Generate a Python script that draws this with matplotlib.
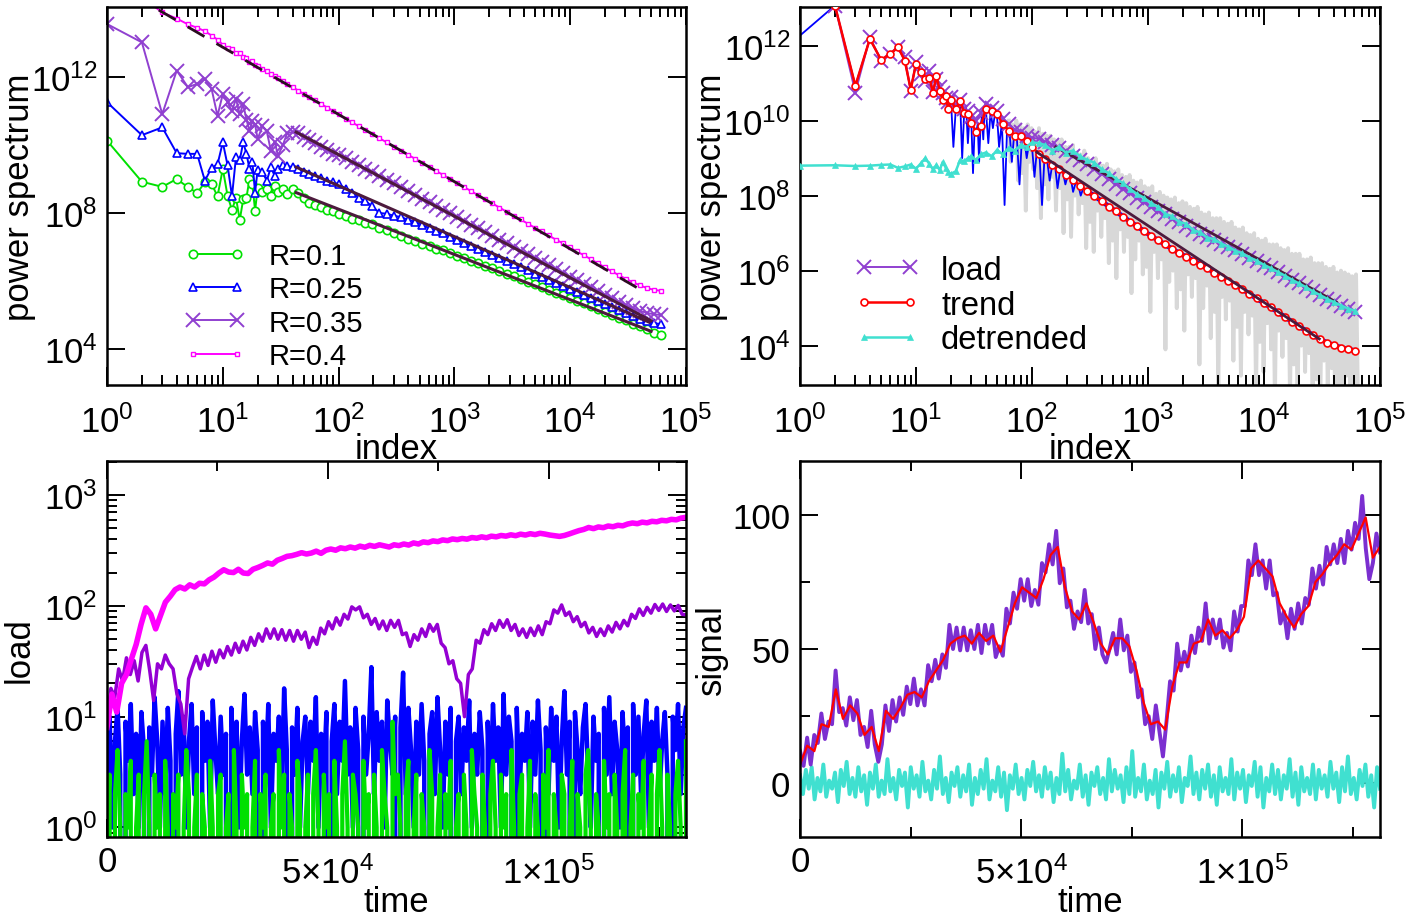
import numpy as np
import matplotlib
matplotlib.use("Agg")
import matplotlib.pyplot as plt
from matplotlib.ticker import LogLocator, NullFormatter, NullLocator

plt.rcParams['font.family'] = ['Liberation Sans', 'DejaVu Sans']
plt.rcParams['mathtext.fontset'] = 'custom'
plt.rcParams['mathtext.rm'] = 'Liberation Sans'
plt.rcParams['mathtext.it'] = 'Liberation Sans:italic'
plt.rcParams['mathtext.bf'] = 'Liberation Sans:bold'

# ---------------- spectra (top row), values are log10 of power ----------------
idx = [1, 2, 3, 4, 5, 6, 7, 8, 9, 10, 11, 12, 13, 14, 15, 16, 17, 18, 19, 20,
       22, 24, 26, 28, 30, 33, 36, 40,
       45, 50, 56, 63, 71, 80, 90, 100,
       115, 130, 150, 170, 195, 225, 260, 300, 345, 400, 460, 530, 610, 700, 800, 920,
       1060, 1220, 1400, 1610, 1850, 2130, 2450, 2820, 3240, 3730, 4290, 4930, 5670, 6520, 7500, 8630, 9920,
       11400, 13100, 15100, 17400, 20000, 23000, 26400, 30400, 35000, 40200, 46200, 53100, 61000]

r01 = [10.13, 8.92, 8.77, 9.0, 8.76, 8.59, 8.9, 8.86, 8.49, 9.3, 8.5, 8.09, 8.45, 7.79, 8.4, 8.45, 9.0, 8.86, 8.07, 8.73,
       8.61, 8.72, 8.5, 8.78, 8.62, 8.7, 8.55, 8.72,
       8.58, 8.45, 8.3, 8.25, 8.18, 8.08, 8.05, 7.98,
       7.9, 7.82, 7.8, 7.7, 7.68, 7.55, 7.5, 7.42, 7.33, 7.25, 7.17, 7.1, 7.03, 6.95, 6.9, 6.82,
       6.75, 6.67, 6.6, 6.53, 6.45, 6.38, 6.3, 6.22, 6.14, 6.06, 5.98, 5.9, 5.82, 5.74, 5.66, 5.58, 5.5,
       5.42, 5.34, 5.26, 5.17, 5.09, 5.0, 4.92, 4.84, 4.75, 4.67, 4.58, 4.48, 4.4]
r025 = [11.26, 10.29, 10.52, 9.76, 9.74, 9.74, 8.95, 9.33, 9.43, 10.08, 9.4, 8.49, 9.65, 9.55, 10.08, 9.75, 9.3, 9.5, 8.6, 9.28,
        9.2, 8.95, 9.35, 9.1, 9.3, 9.42, 9.38, 9.35,
        9.3, 9.22, 9.15, 9.1, 9.02, 8.95, 8.9, 8.85,
        8.72, 8.6, 8.45, 8.35, 8.2, 8.0, 7.98, 7.92, 7.88, 7.8, 7.74, 7.65, 7.55, 7.48, 7.4, 7.3,
        7.22, 7.13, 7.04, 6.95, 6.86, 6.77, 6.68, 6.58, 6.49, 6.4, 6.31, 6.22, 6.13, 6.04, 5.95, 5.86, 5.77,
        5.68, 5.6, 5.51, 5.42, 5.33, 5.24, 5.15, 5.06, 4.97, 4.89, 4.81, 4.76, 4.73]
r035 = [13.56, 13.02, 10.91, 12.19, 11.7, 11.8, 11.94, 11.65, 10.86, 11.5, 11.26, 11.0, 11.36, 10.9, 11.2, 10.75, 10.42, 10.7, 10.6, 10.18,
        10.55, 10.4, 9.83, 10.1, 9.69, 10.0, 10.35, 10.38,
        10.35, 10.25, 10.15, 10.05, 9.95, 9.85, 9.75, 9.7,
        9.62, 9.5, 9.4, 9.3, 9.2, 9.08, 8.98, 8.87, 8.76, 8.64, 8.53, 8.42, 8.31, 8.2, 8.1, 7.99,
        7.88, 7.77, 7.66, 7.55, 7.44, 7.33, 7.22, 7.11, 7.0, 6.89, 6.78, 6.68, 6.57, 6.46, 6.35, 6.24, 6.13,
        6.02, 5.92, 5.81, 5.7, 5.6, 5.49, 5.39, 5.29, 5.2, 5.12, 5.06, 5.02, 5.0]
r04 = [15.0, 14.35, 13.9, 13.72, 13.55, 13.45, 13.35, 13.22, 13.1, 12.95, 12.85, 12.83, 12.7, 12.72, 12.6, 12.55, 12.45, 12.48, 12.35, 12.33,
       12.25, 12.17, 12.1, 12.03, 11.98, 11.88, 11.8, 11.7,
       11.6, 11.5, 11.42, 11.32, 11.2, 11.1, 11.0, 10.9,
       10.77, 10.67, 10.55, 10.44, 10.32, 10.2, 10.08, 9.95, 9.83, 9.71, 9.59, 9.47, 9.35, 9.23, 9.12, 9.0,
       8.88, 8.76, 8.64, 8.52, 8.4, 8.28, 8.16, 8.04, 7.92, 7.81, 7.69, 7.57, 7.46, 7.34, 7.22, 7.11, 6.99,
       6.87, 6.76, 6.64, 6.52, 6.4, 6.28, 6.17, 6.06, 5.96, 5.87, 5.79, 5.74, 5.71]

# straight-line fits (index, log10 power) at both ends
fit01 = ([43, 50000], [8.6, 4.52])
fit025 = ([43, 48000], [9.35, 4.79])
fit035 = ([43, 50000], [10.38, 4.83])
fit04 = ([2.8, 37500], [13.97, 5.81])

# load and trend spectra start at index 2, detrended at index 1
load_spec = [13.07, 10.75, 12.22, 11.6, 11.78, 11.96, 11.7, 10.8, 11.56, 11.25, 11.07, 11.33, 10.76, 11.1, 10.9, 10.75, 10.6, 10.5, 10.62,
             10.4, 10.55, 10.3, 10.25, 10.1, 10.0, 10.2, 10.45,
             10.35, 10.25, 10.05, 9.9, 9.75, 9.7, 9.6, 9.55,
             9.51, 9.44, 9.36, 9.28, 9.18, 9.07, 8.95, 8.84, 8.72, 8.58, 8.45, 8.31, 8.18, 8.06, 7.94, 7.82,
             7.71, 7.6, 7.5, 7.39, 7.29, 7.18, 7.08, 6.98, 6.91, 6.82, 6.72, 6.63, 6.54, 6.45, 6.35, 6.26, 6.16,
             6.07, 5.97, 5.87, 5.76, 5.66, 5.56, 5.45, 5.35, 5.25, 5.16, 5.07, 4.98, 4.91]
trend_spec = [13.07, 10.93, 12.18, 11.62, 11.78, 11.96, 11.6, 10.83, 11.52, 11.3, 11.1, 11.15, 10.75, 11.2, 10.8, 10.55, 10.65, 10.3, 10.55,
              10.3, 10.53, 10.2, 10.18, 9.95, 9.69, 9.85, 10.31,
              10.25, 10.18, 9.9, 9.73, 9.6, 9.58, 9.45, 9.3,
              9.11, 8.98, 8.83, 8.7, 8.56, 8.41, 8.27, 8.12, 7.99, 7.85, 7.71, 7.58, 7.44, 7.31, 7.19, 7.06,
              6.93, 6.81, 6.7, 6.58, 6.47, 6.37, 6.27, 6.16, 6.06, 5.95, 5.84, 5.73, 5.62, 5.5, 5.38, 5.26, 5.14,
              5.02, 4.9, 4.77, 4.64, 4.52, 4.4, 4.28, 4.17, 4.08, 4.01, 3.95, 3.9, 3.87]
detr_spec = [8.8, 8.81, 8.79, 8.8, 8.82, 8.83, 8.74, 8.78, 8.83, 8.72, 8.86, 9.0, 8.85, 8.7, 8.82, 8.68, 8.9, 8.75, 8.62, 8.58,
             8.65, 8.95, 8.92, 9.0, 9.05, 8.95, 9.1, 9.15,
             9.05, 9.22, 9.1, 9.28, 9.2, 9.35, 9.3, 9.42,
             9.4, 9.35, 9.2, 9.3, 9.15, 9.2, 9.05, 8.95, 8.88, 8.7, 8.6, 8.45, 8.33, 8.18, 8.05, 7.95,
             7.8, 7.7, 7.52, 7.45, 7.3, 7.25, 7.08, 7.02, 6.88, 6.84, 6.72, 6.64, 6.53, 6.46, 6.35, 6.27, 6.16,
             6.07, 5.97, 5.87, 5.76, 5.66, 5.56, 5.45, 5.35, 5.25, 5.16, 5.07, 4.99, 4.93]

# raw periodogram of the trend (thin blue) at low index
raw_trend_n = [1, 2, 3, 4, 5, 6, 7, 8, 9, 10, 11, 12, 13, 14, 15, 16, 17, 18, 19, 20,
               21, 22, 23, 24, 25, 26, 27, 28, 29, 30, 31, 32, 33, 34, 35, 36, 37, 38, 39, 40,
               42, 44, 46, 48, 50, 52, 55, 58, 61, 64, 67, 70, 74, 78, 82, 86, 90, 95, 100, 105,
               110, 116, 122, 128, 135, 142, 150, 158, 166, 175, 184, 194, 204, 215, 226, 238, 250, 263, 277, 291, 306]
raw_trend = [12.27, 13.07, 10.93, 12.18, 11.62, 11.78, 11.96, 11.6, 10.83, 11.52, 11.3, 11.1, 11.15, 10.75, 11.2, 10.8, 10.55, 10.65, 10.3, 10.55,
             9.3, 10.3, 10.6, 10.53, 9.0, 10.2, 10.4, 9.4, 10.18, 9.95, 8.6, 9.8, 9.69, 9.9, 8.9, 9.85, 10.1, 9.5, 10.31, 10.3,
             9.4, 10.25, 9.8, 10.2, 10.1, 9.3, 9.95, 7.75, 9.8, 9.7, 8.9, 9.6, 9.55, 8.3, 9.6, 9.5, 9.0, 9.45, 9.3, 8.5,
             9.2, 9.1, 7.75, 9.0, 8.95, 8.4, 8.85, 8.8, 8.2, 8.7, 8.65, 8.3, 8.55, 8.5, 8.1, 8.35, 8.3, 8.0, 8.2, 8.15, 8.05]

# raw periodogram of the load (light grey band), log-spaced index 10^1.8 .. 10^4.81
raw_load = [10.0, 8.9, 9.9, 9.3, 10.0, 8.4,
            9.9, 8.6, 9.8, 7.6, 9.9, 8.9,
            9.8, 8.7, 9.7, 8.2, 9.8, 7.4,
            9.65, 8.3, 9.6, 7.9, 9.6, 8.5,
            9.5, 7.6, 9.45, 8.2, 9.5, 7.0,
            9.3, 7.9, 9.3, 6.9, 9.35, 8.0,
            9.15, 7.5, 9.1, 7.8, 9.2, 6.6,
            9.0, 7.3, 8.95, 6.5, 9.0, 7.6,
            8.85, 6.9, 8.8, 7.4, 8.85, 6.2,
            8.7, 6.8, 8.65, 5.8, 8.7, 7.1,
            8.55, 6.5, 8.5, 6.9, 8.55, 5.4,
            8.4, 6.3, 8.35, 6.8, 8.4, 5.9,
            8.25, 6.1, 8.2, 4.9, 8.25, 6.5,
            8.05, 5.8, 8.1, 6.3, 8.0, 3.9,
            7.95, 5.7, 7.9, 6.0, 7.95, 5.0,
            7.8, 5.5, 7.85, 4.4, 7.8, 5.9,
            7.7, 5.3, 7.65, 5.8, 7.7, 3.5,
            7.55, 5.0, 7.5, 5.6, 7.55, 4.2,
            7.4, 4.9, 7.4, 2.8, 7.4, 5.3,
            7.3, 4.7, 7.25, 5.2, 7.3, 3.6,
            7.15, 4.5, 7.1, 3.2, 7.15, 4.9,
            7.0, 4.3, 6.95, 4.8, 7.0, 2.7,
            6.85, 4.1, 6.8, 3.3, 6.85, 4.6,
            6.7, 3.9, 6.7, 2.5, 6.7, 4.4,
            6.6, 3.7, 6.55, 4.2, 6.6, 2.6,
            6.45, 3.5, 6.45, 2.4, 6.45, 4.0,
            6.3, 3.3, 6.3, 3.8, 6.35, 2.2,
            6.2, 3.1, 6.2, 2.3, 6.2, 3.6,
            6.1, 2.9, 6.05, 3.4, 6.1, 2.1,
            5.95, 2.7, 6.0, 2.2, 5.95, 3.2,
            5.9, 2.5, 5.85, 2.0, 5.9, 2.6]

fit_trend = ([110, 30000], [9.16, 4.18])
fit_load = ([160, 42000], [9.3, 5.16])

# ---------------- time series (bottom row), time 0 .. 131072 ----------------
T_END = 131072
load_r04 = [8, 16, 11, 20, 24, 33, 45, 68, 96, 84, 62, 82, 108, 122, 140, 148, 142, 155, 148, 160,
            158, 172, 182, 198, 212, 202, 200, 214, 198, 196, 214, 222, 232, 244, 238, 258, 268, 280, 284, 292,
            302, 294, 300, 312, 298, 318, 326, 318, 334, 328, 340, 332, 346, 338, 352, 344, 356, 348, 340, 356,
            350, 362, 354, 370, 362, 378, 372, 386, 380, 394, 388, 402, 396, 406, 400, 414, 408, 420, 412, 426,
            420, 432, 426, 438, 430, 444, 436, 448, 440, 452, 445, 436, 430, 424, 432, 446, 462, 478, 490, 510,
            498, 516, 508, 526, 518, 534, 528, 548, 560, 552, 570, 562, 580, 574, 592, 586, 604, 598, 620, 630]
load_r035 = [9, 18, 15, 27, 21, 34, 24, 32, 21, 38, 44, 26, 14, 30, 27, 36, 30, 27, 16, 13,
             7, 22, 28, 35, 27, 36, 29, 39, 31, 40, 34, 43, 36, 46, 38, 48, 40, 52, 44, 56,
             48, 62, 51, 62, 50, 61, 49, 60, 48, 60, 50, 58, 42, 52, 45, 63, 56, 72, 62, 78,
             67, 84, 76, 98, 92, 98, 78, 84, 68, 77, 62, 73, 60, 74, 64, 74, 55, 57, 43, 55,
             49, 62, 53, 68, 59, 68, 46, 42, 30, 32, 22, 20, 10, 24, 27, 49, 46, 61, 55, 69,
             60, 74, 64, 75, 60, 68, 54, 62, 52, 63, 54, 66, 55, 72, 69, 92, 86, 102, 82, 88,
             72, 80, 65, 71, 57, 64, 53, 62, 54, 66, 58, 71, 62, 74, 66, 84, 77, 94, 82, 97,
             86, 103, 91, 104, 89, 102, 90, 101, 84, 83]
load_r025 = [2, 10, 1, 6, 12, 3, 0, 9, 4, 13, 2, 7, 1, 11, 5, 0, 8, 3, 15, 6, 1, 9, 2, 12, 4, 0, 7, 17, 3, 10, 1, 6, 13, 2, 8, 0, 11, 4, 9, 1,
             14, 5, 2, 10, 3, 7, 0, 12, 4, 9, 1, 6, 16, 3, 8, 2, 11, 5, 0, 9, 3, 13, 1, 7, 4, 10, 2, 18, 5, 0, 8, 3, 12, 1, 6, 10, 2, 9, 4, 15,
             1, 7, 3, 11, 0, 6, 13, 2, 9, 4, 21, 3, 8, 1, 12, 5, 0, 10, 3, 7, 28, 2, 11, 4, 9, 1, 14, 6, 3, 10, 0, 8, 25, 2, 12, 5, 1, 9, 3, 13,
             4, 0, 7, 11, 2, 15, 5, 1, 9, 3, 12, 0, 6, 10, 2, 8, 4, 14, 1, 7, 3, 11, 5, 0, 9, 2, 13, 4, 8, 1, 16, 3, 10, 6, 0, 12, 2, 7, 4, 11,
             1, 9, 3, 14, 5, 0, 8, 2, 12, 4, 10, 1, 6, 17, 3, 9, 0, 11, 5, 2, 8, 13, 3, 1, 10, 4, 7, 0, 12, 3, 15, 2, 9, 5, 1, 11, 4, 8, 0, 13,
             3, 10, 2, 7, 14, 1, 9, 4, 12, 2, 6, 11, 3, 0, 10, 5, 13, 2, 8, 12]
load_r01 = [1, 3, 0, 2, 5, 1, 0, 2, 1, 4, 0, 1, 3, 0, 2, 6, 1, 0, 3, 1, 2, 0, 4, 1, 0, 2, 1, 3, 0, 1, 5, 2, 0, 1, 3, 0, 2, 1, 0, 4,
            1, 0, 2, 3, 0, 1, 2, 0, 5, 1, 0, 3, 1, 2, 0, 1, 4, 0, 2, 1, 3, 0, 1, 2, 0, 5, 1, 3, 0, 2, 1, 0, 4, 2, 0, 1, 3, 0, 2, 5,
            1, 0, 3, 1, 2, 0, 4, 1, 0, 2, 6, 1, 0, 3, 2, 1, 0, 4, 1, 2, 0, 3, 1, 0, 5, 2, 1, 0, 9, 2, 3, 1, 0, 2, 4, 0, 1, 3, 0, 2,
            1, 0, 5, 2, 0, 1, 3, 0, 2, 1, 4, 0, 1, 2, 0, 3, 1, 0, 5, 2, 1, 0, 3, 1, 0, 2, 4, 1, 0, 3, 1, 2, 0, 5, 1, 0, 2, 3, 0, 1,
            4, 0, 2, 1, 0, 3, 1, 5, 0, 2, 1, 0, 3, 2, 0, 1, 4, 0, 2, 1, 0, 3, 5, 1, 0, 2, 1, 0, 4, 1, 2, 0, 3, 1, 0, 2, 5, 0, 1, 3,
            0, 2, 1, 4, 0, 1, 3, 0, 2, 5, 1, 0, 3, 1, 0, 2, 4, 1, 0, 6]

trend = [7, 14, 12, 22, 21, 35, 24, 29, 26, 18, 21, 12, 27, 24, 28, 33, 34, 32, 38, 42,
         46, 52, 54, 55, 52, 56, 53, 55, 49, 58, 67, 73, 71, 69, 76, 85, 88, 73, 64, 61,
         67, 60, 52, 48, 54, 54, 51, 42, 30, 22, 23, 20, 36, 45, 45, 52, 53, 61, 55, 57,
         54, 57, 62, 80, 83, 80, 77, 67, 62, 58, 63, 66, 75, 78, 82, 85, 89, 87, 93, 99, 84, 88]
signal = [12, 6.5, 17, 7, 18, 15, 26, 16.5, 23, 22, 42, 26.5, 28, 21.5, 32, 23.5, 31, 18, 21, 13.5,
          27, 14.5, 8, 14.5, 29, 19.5, 31, 23, 32, 25.5, 36, 29.5, 39, 29, 35, 29, 44, 38, 46, 39,
          48, 43, 59, 50, 58, 49.5, 58, 49.5, 57, 50, 59, 48.5, 59, 52, 59, 47, 51, 47.5, 65, 59.5,
          71, 65, 76, 68, 76, 66, 72, 66.5, 82, 78.5, 89, 81.5, 94, 74.5, 80, 65.5, 68, 57.5, 64, 60,
          72, 59.5, 63, 50, 58, 48, 45, 50, 56, 48, 61, 49.5, 55, 41.5, 45, 32, 35, 22, 25, 16.5,
          29, 19.5, 10, 23, 38, 34.5, 52, 42, 49, 43.5, 55, 48.5, 58, 53, 67, 52, 61, 54, 61, 50.5,
          56, 49.5, 64, 56.5, 66, 66, 83, 77.5, 89, 77.5, 83, 72.5, 83, 70, 71, 59.5, 64, 54, 65, 57.5,
          67, 59.5, 69, 66.5, 80, 72.5, 81, 74, 88, 81.5, 89, 82, 91, 82, 94, 87, 97, 91, 107, 87.5,
          76, 82, 93, 86]
detrended = [3, -4, 5, -2, 6, -6, 2, -3, 7, -5, 1, -2, 4, -7, 5, -1, 8, -4, 2, -5,
             6, -3, 3, -8, 4, -2, 7, -5, 1, -4, 9, -3, 2, -6, 5, -1, 4, -9, 6, -2,
             3, -5, 8, -3, 1, -6, 5, -2, 10, -4, 2, -7, 4, -1, 6, -5, 3, -3, 7, -8,
             2, -4, 5, -2, 9, -6, 1, -3, 6, -5, 4, -10, 3, -2, 7, -4, 2, -6, 5, -1,
             8, -3, 3, -5, 6, -2, 4, -7, 2, -4, 11, -3, 5, -6, 1, -2, 7, -5, 3, -8,
             4, -1, 6, -4, 2, -6, 9, -3, 5, -2, 3, -7, 6, -4, 12, -5, 2, -3, 7, -6,
             1, -4, 5, -9, 4, -2, 8, -5, 3, -3, 6, -7, 2, -1, 10, -4, 4, -6, 5, -2,
             7, -5, 3, -8, 6, -3, 2, -4, 9, -6, 4, -2, 5, -7, 3, -1, 8, -5, 6, -9,
             2, -3, 7, -4, 5, -6, 3, -2, 9, -5, 4, -8, 6, -3, 2, -4, 7, -6, 5, -2,
             3, -5, 8, -2, 4, -7, 6, -3, 10, -4, 2, -6, 5, -1, 7, -5, 3, -9, 6, -2]

GREEN = '#00e000'
BLUE = '#0000ff'
VIOLET = '#9040d0'
MAGENTA = '#ff00ff'
FITC = '#4d1a3d'
RED = '#ff0000'
CYAN = '#40e0d0'
GREY = '#d8d8d8'
TICK_FS = 25
LABEL_FS = 25


def pw(v):
    return 10.0 ** np.array(v, dtype=float)


def style(ax, xpad):
    for s in ax.spines.values():
        s.set_linewidth(1.8)
    ax.tick_params(which='both', direction='in', top=True, right=True,
                   labelsize=TICK_FS, width=1.4)
    ax.tick_params(axis='x', which='both', pad=xpad)
    ax.tick_params(axis='y', which='both', pad=7)
    ax.tick_params(which='major', length=13)
    ax.tick_params(which='minor', length=7)


def log_x(ax):
    ax.set_xscale('log')
    ax.set_xlim(1, 1e5)
    ax.xaxis.set_major_locator(LogLocator(base=10, numticks=10))
    ax.xaxis.set_minor_locator(LogLocator(base=10, subs=np.arange(2, 10), numticks=20))
    ax.xaxis.set_minor_formatter(NullFormatter())


def time_x(ax):
    ax.set_xlim(0, T_END)
    ax.set_xticks([0, 5e4, 1e5])
    ax.set_xticklabels(['', r'$5{\times}10^{4}$', r'$1{\times}10^{5}$'])
    ax.set_xticks([2.5e4, 7.5e4, 1.25e5], minor=True)
    # the "0" label sits higher than the labels carrying an exponent
    ax.text(0, -0.064, '0', transform=ax.get_xaxis_transform(), ha='center', va='center',
            fontsize=TICK_FS)


fig = plt.figure(figsize=(14.08, 9.2), dpi=100)
ax1 = fig.add_axes([0.0760, 0.5804, 0.4112, 0.4109])
ax2 = fig.add_axes([0.5682, 0.5804, 0.4119, 0.4109])
ax3 = fig.add_axes([0.0760, 0.0891, 0.4112, 0.4087])
ax4 = fig.add_axes([0.5682, 0.0891, 0.4119, 0.4087])

# ---- top left: spectra for several R ----
ax1.plot(idx, pw(r01), color=GREEN, lw=1.4, marker='o', ms=6, mfc='white', mew=1.2, label='R=0.1')
ax1.plot(idx, pw(r025), color=BLUE, lw=1.4, marker='^', ms=6, mfc='white', mew=1.2, label='R=0.25')
ax1.plot(idx, pw(r035), color=VIOLET, lw=1.4, marker='x', ms=10, mew=1.4, label='R=0.35')
ax1.plot(idx, pw(r04), color=MAGENTA, lw=1.4, marker='s', ms=3.5, mfc='white', mew=1.0, label='R=0.4')
for fx, fy in (fit01, fit025, fit035):
    ax1.plot(fx, pw(fy), color=FITC, lw=2.2)
ax1.plot(fit04[0], pw(fit04[1]), color='#2a0f20', lw=2.0, dashes=(7, 5))
log_x(ax1)
ax1.set_yscale('log')
ax1.set_ylim(10 ** 2.94, 10 ** 14.06)
ax1.set_yticks([1e4, 1e8, 1e12])
ax1.yaxis.set_minor_locator(NullLocator())
ax1.legend(loc='upper left', bbox_to_anchor=(0.133, 0.378), frameon=False, fontsize=21,
           handlelength=2.1, handletextpad=0.8, labelspacing=0.18, borderpad=0, borderaxespad=0, numpoints=2)

# ---- top right: load / trend / detrended spectra ----
ax2.plot(np.geomspace(10 ** 1.8, 10 ** 4.81, len(raw_load)), pw(raw_load), color=GREY, lw=2.8, zorder=1)
ax2.plot(raw_trend_n, pw(raw_trend), color=BLUE, lw=1.3, zorder=2)
idx_hi = [n for n in idx if n >= 300]
ax2.plot(idx_hi, pw(trend_spec[-len(idx_hi):]), color=BLUE, lw=3.5, zorder=2)
ax2.plot(idx[1:], pw(load_spec), color=VIOLET, lw=1.4, marker='x', ms=10, mew=1.4, label='load', zorder=3)
ax2.plot(idx[1:], pw(trend_spec), color=RED, lw=1.8, marker='o', ms=5, mfc='white', mew=1.2, label='trend', zorder=4)
ax2.plot(idx, pw(detr_spec), color=CYAN, lw=1.8, marker='^', ms=4, mew=0.5, label='detrended', zorder=5)
ax2.plot(fit_trend[0], pw(fit_trend[1]), color=FITC, lw=2.0, zorder=6)
ax2.plot(fit_load[0], pw(fit_load[1]), color=FITC, lw=2.0, zorder=4.5)
log_x(ax2)
ax2.set_yscale('log')
ax2.set_ylim(10 ** 2.95, 10 ** 13.03)
ax2.set_yticks([1e4, 1e6, 1e8, 1e10, 1e12])
ax2.yaxis.set_minor_locator(NullLocator())
ax2.legend(loc='upper left', bbox_to_anchor=(0.094, 0.345), frameon=False, fontsize=23.5,
           handlelength=2.0, handletextpad=0.65, labelspacing=0.12, borderpad=0, borderaxespad=0, numpoints=2)

# ---- bottom left: load time series ----
ax3.plot(np.linspace(0, T_END, len(load_r025)), load_r025, color=BLUE, lw=3.2)
ax3.plot(np.linspace(0, T_END, len(load_r01)), load_r01, color=GREEN, lw=3.0)
ax3.plot(np.linspace(0, T_END, len(load_r035)), load_r035, color='#9400d3', lw=2.5)
ax3.plot(np.linspace(0, T_END, len(load_r04)), load_r04, color=MAGENTA, lw=4.0)
ax3.set_yscale('log', nonpositive='clip')
ax3.set_ylim(0.82, 2.03e3)
ax3.yaxis.set_major_locator(LogLocator(base=10, numticks=10))
ax3.yaxis.set_minor_locator(LogLocator(base=10, subs=np.arange(2, 10), numticks=20))
ax3.yaxis.set_minor_formatter(NullFormatter())
time_x(ax3)

# ---- bottom right: signal, trend, detrended ----
ax4.plot(np.linspace(0, T_END, len(detrended)), detrended, color=CYAN, lw=2.8)
ax4.plot(np.linspace(0, T_END, len(signal)), signal, color='#7b2fd0', lw=2.8)
ax4.plot(np.linspace(0, T_END, len(trend)), trend, color=RED, lw=1.6)
ax4.set_ylim(-20, 120)
ax4.set_yticks([0, 50, 100])
ax4.set_yticks([25, 75], minor=True)
time_x(ax4)

style(ax1, 14)
style(ax2, 14)
style(ax3, 13)
style(ax4, 13)

for ax, lab in ((ax1, 'power spectrum'), (ax2, 'power spectrum'), (ax3, 'load'), (ax4, 'signal')):
    ax.set_ylabel(lab, fontsize=LABEL_FS, va='center')
    ax.yaxis.set_label_coords(-0.152, 0.5)
for ax, lab in ((ax1, 'index'), (ax2, 'index')):
    ax.set_xlabel(lab, fontsize=LABEL_FS, va='center')
    ax.xaxis.set_label_coords(0.5, -0.168)
for ax, lab in ((ax3, 'time'), (ax4, 'time')):
    ax.set_xlabel(lab, fontsize=LABEL_FS, va='center')
    ax.xaxis.set_label_coords(0.5, -0.171)

fig.savefig('out.png', dpi=100)
